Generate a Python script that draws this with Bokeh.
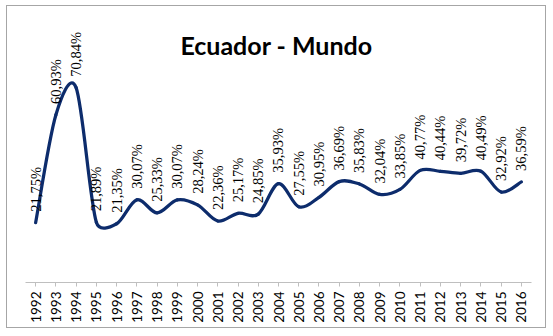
import math
from bokeh.plotting import figure
from bokeh.models import ColumnDataSource, LabelSet, FactorRange
from bokeh.core.properties import value
from bokeh.embed import file_html
from bokeh.resources import INLINE

years = ["1992", "1993", "1994", "1995", "1996", "1997", "1998", "1999", "2000",
         "2001", "2002", "2003", "2004", "2005", "2006", "2007", "2008", "2009",
         "2010", "2011", "2012", "2013", "2014", "2015", "2016"]
values = [21.75, 60.93, 70.84, 21.89, 21.35, 30.07, 25.33, 30.07, 28.24, 22.36,
          25.17, 24.85, 35.93, 27.55, 30.95, 36.69, 35.83, 32.04, 33.85, 40.77,
          40.44, 39.72, 40.49, 32.92, 36.59]
labels = [("%.2f%%" % v).replace(".", ",") for v in values]
title_text = "Ecuador - Mundo"

LINE = "#0D2C6C"
FONT = "Lato"
YMAX = 100

p = figure(width=540, height=323, x_range=FactorRange(*years), y_range=(0, YMAX),
           output_backend="svg", toolbar_location=None, y_axis_location=None,
           min_border_left=18, min_border_right=16, min_border_top=1,
           min_border_bottom=47, outline_line_color=None,
           background_fill_color="white", border_fill_color="white")
p.styles = {"margin-left": "6px", "margin-top": "5px", "border": "1px solid #A6A6A6"}

p.xgrid.visible = False
p.ygrid.visible = False

ax = p.xaxis[0]
ax.axis_line_color = "#BFBFBF"
ax.major_tick_line_color = "#BFBFBF"
ax.major_tick_out = 4
ax.major_tick_in = 0
ax.major_label_orientation = math.pi / 2
ax.major_label_text_font = FONT
ax.major_label_text_font_size = "13.5px"
ax.major_label_text_color = "black"
ax.major_label_standoff = 5

# smooth line: Bezier segments through the data points (Excel-like smoothing,
# control arms of 1/6 of the neighbour chord, limited to half the segment length)
n = len(values)
SX = 506.0 / n        # pixels per category (approx.)
SY = 275.0 / YMAX     # pixels per unit (approx.)
def pt(i):
    i = max(0, min(n - 1, i))
    return float(i), values[i]
def dist(a, b):
    return math.hypot((b[0] - a[0]) * SX, (b[1] - a[1]) * SY)
def cat(xv):
    k = int(round(xv))
    return (years[k], xv - k)
x0, y0, x1, y1, cx0, cy0, cx1, cy1 = [], [], [], [], [], [], [], []
for i in range(n - 1):
    pa = pt(i - 1); pb = pt(i); pc = pt(i + 1); pd = pt(i + 2)
    d02 = dist(pa, pc); d12 = dist(pb, pc); d13 = dist(pb, pd)
    f = 1.0 / 6.0; g = 1.0 / 6.0
    if d02 > 0 and d02 / 6.0 > d12 / 2.0:
        f = d12 / d02 / 2.0
    if d13 > 0 and d13 / 6.0 > d12 / 2.0:
        g = d12 / d13 / 2.0
    x0.append(cat(pb[0])); y0.append(pb[1])
    x1.append(cat(pc[0])); y1.append(pc[1])
    cx0.append(cat(pb[0] + (pc[0] - pa[0]) * f)); cy0.append(pb[1] + (pc[1] - pa[1]) * f)
    cx1.append(cat(pc[0] - (pd[0] - pb[0]) * g)); cy1.append(pc[1] - (pd[1] - pb[1]) * g)

bsrc = ColumnDataSource(dict(x0=x0, y0=y0, x1=x1, y1=y1, cx0=cx0, cy0=cy0, cx1=cx1, cy1=cy1))
p.bezier(x0="x0", y0="y0", x1="x1", y1="y1", cx0="cx0", cy0="cy0", cx1="cx1", cy1="cy1",
         source=bsrc, line_color=LINE, line_width=3.25, line_cap="round")

src = ColumnDataSource(dict(x=years, y=values, t=labels))
ls = LabelSet(x="x", y="y", text="t", source=src, angle=math.pi / 2,
              text_align="left", text_baseline="middle", y_offset=11,
              text_font=FONT, text_font_size="14.5px", text_color="black")
p.add_layout(ls)

# chart title, centred over the chart
p.text(x=[("2004", -0.1)], y=[86.3], text=[title_text], text_align="center",
       text_baseline="alphabetic", text_font=value(FONT), text_font_size="25px",
       text_font_style="bold", text_color="black")

open("out.html", "w").write(file_html(p, INLINE))
